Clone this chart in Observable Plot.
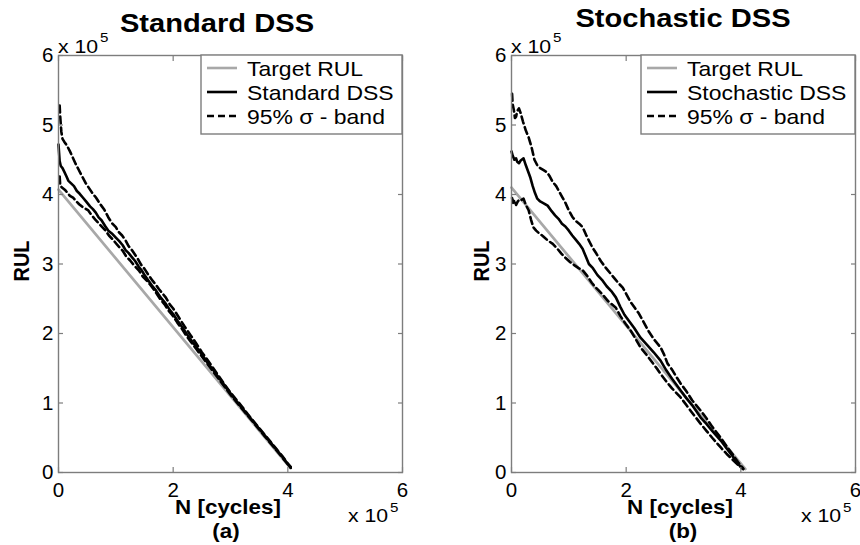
<!DOCTYPE html>
<html>
<head>
<meta charset="utf-8">
<script src="https://cdn.jsdelivr.net/npm/d3@7"></script>
<script src="https://cdn.jsdelivr.net/npm/@observablehq/plot@0.6"></script>
<style>
  body { margin: 0; background: #fff; }
  #wrap { position: relative; width: 860px; height: 545px; overflow: hidden; }
  #wrap svg { position: absolute; top: 0; }
</style>
</head>
<body>
<div id="wrap"></div>
<script>
// ---- data (N and RUL in units of 10^5 cycles) ----
const xTicks = [0, 2, 4, 6];
const yTicks = [0, 1, 2, 3, 4, 5, 6];
const titles = ["Standard DSS", "Stochastic DSS"];
const subLabels = ["(a)", "(b)"];
const legendA = ["Target RUL", "Standard DSS", "95% \u03c3 - band"];
const legendB = ["Target RUL", "Stochastic DSS", "95% \u03c3 - band"];

const stdTarget = [[0, 4.07], [4.05, 0.06]];
const stdMean = [[0.00,4.72],[0.01,4.60],[0.02,4.48],[0.04,4.41],[0.07,4.38],[0.10,4.33],[0.14,4.26],[0.17,4.20],[0.22,4.16],[0.27,4.12],[0.32,4.05],[0.37,4.01],[0.42,3.96],[0.48,3.90],[0.55,3.83],[0.60,3.79],[0.65,3.74],[0.70,3.67],[0.75,3.63],[0.81,3.55],[0.87,3.48],[0.93,3.44],[1.00,3.38],[1.06,3.33],[1.12,3.27],[1.17,3.20],[1.22,3.16],[1.28,3.10],[1.34,3.04],[1.40,2.96],[1.45,2.91],[1.51,2.83],[1.57,2.76],[1.63,2.69],[1.70,2.62],[1.78,2.52],[1.87,2.43],[1.94,2.34],[2.00,2.28],[2.08,2.18],[2.16,2.09],[2.23,2.00],[2.30,1.92],[2.40,1.81],[2.50,1.70],[2.60,1.58],[2.70,1.47],[2.80,1.36],[2.90,1.25],[3.00,1.14],[3.10,1.03],[3.20,0.93],[3.30,0.83],[3.40,0.73],[3.50,0.63],[3.60,0.53],[3.70,0.43],[3.80,0.33],[3.90,0.23],[4.00,0.12],[4.05,0.07]];
const stdUpper = [[0.02,5.28],[0.03,5.12],[0.05,4.90],[0.07,4.80],[0.10,4.76],[0.15,4.70],[0.20,4.62],[0.25,4.53],[0.30,4.44],[0.35,4.36],[0.40,4.28],[0.47,4.17],[0.55,4.07],[0.60,4.01],[0.65,3.96],[0.72,3.87],[0.80,3.78],[0.87,3.67],[0.94,3.58],[1.00,3.53],[1.05,3.46],[1.11,3.41],[1.17,3.34],[1.22,3.26],[1.28,3.20],[1.33,3.14],[1.38,3.08],[1.44,2.99],[1.50,2.93],[1.57,2.84],[1.64,2.76],[1.70,2.70],[1.75,2.64],[1.81,2.58],[1.87,2.52],[1.94,2.42],[2.00,2.36],[2.07,2.27],[2.13,2.19],[2.20,2.10],[2.30,1.98],[2.40,1.86],[2.50,1.73],[2.60,1.62],[2.70,1.50],[2.80,1.38],[2.90,1.26],[3.00,1.15],[3.10,1.05],[3.20,0.95],[3.30,0.84],[3.40,0.74],[3.50,0.64],[3.60,0.54],[3.70,0.44],[3.80,0.34],[3.90,0.24],[4.00,0.13],[4.05,0.08]];
const stdLower = [[0.02,4.26],[0.03,4.13],[0.06,4.10],[0.12,4.06],[0.20,3.98],[0.26,3.95],[0.30,3.91],[0.36,3.86],[0.42,3.82],[0.52,3.77],[0.58,3.70],[0.65,3.63],[0.73,3.56],[0.82,3.48],[0.88,3.41],[0.95,3.35],[1.03,3.27],[1.12,3.19],[1.18,3.11],[1.25,3.05],[1.33,2.97],[1.40,2.91],[1.47,2.82],[1.55,2.75],[1.62,2.68],[1.69,2.60],[1.77,2.50],[1.85,2.42],[1.92,2.33],[1.99,2.26],[2.07,2.16],[2.15,2.07],[2.22,1.98],[2.30,1.89],[2.40,1.78],[2.50,1.67],[2.60,1.56],[2.70,1.45],[2.80,1.34],[2.90,1.23],[3.00,1.12],[3.10,1.02],[3.20,0.92],[3.30,0.82],[3.40,0.72],[3.50,0.62],[3.60,0.52],[3.70,0.42],[3.80,0.32],[3.90,0.22],[4.00,0.12],[4.05,0.07]];

const stoTarget = [[0, 4.10], [4.08, 0.05]];
const stoMean = [[0.00,4.62],[0.02,4.56],[0.05,4.50],[0.08,4.52],[0.10,4.47],[0.13,4.45],[0.16,4.49],[0.21,4.52],[0.25,4.42],[0.29,4.33],[0.33,4.24],[0.37,4.12],[0.41,4.02],[0.45,3.94],[0.50,3.90],[0.57,3.87],[0.63,3.84],[0.70,3.76],[0.76,3.70],[0.82,3.65],[0.88,3.58],[0.94,3.54],[1.00,3.48],[1.06,3.41],[1.12,3.35],[1.18,3.29],[1.24,3.22],[1.30,3.10],[1.35,3.00],[1.42,2.94],[1.50,2.84],[1.59,2.76],[1.66,2.68],[1.74,2.61],[1.82,2.52],[1.90,2.38],[1.97,2.27],[2.04,2.19],[2.14,2.08],[2.25,1.94],[2.36,1.84],[2.48,1.73],[2.60,1.61],[2.70,1.47],[2.80,1.35],[2.95,1.18],[3.05,1.07],[3.15,0.97],[3.30,0.79],[3.40,0.70],[3.50,0.60],[3.65,0.46],[3.75,0.35],[3.85,0.24],[3.95,0.12],[4.04,0.05]];
const stoUpper = [[0.01,5.45],[0.02,5.30],[0.04,5.22],[0.06,5.10],[0.08,5.12],[0.10,5.20],[0.13,5.24],[0.16,5.17],[0.20,5.05],[0.25,4.92],[0.30,4.82],[0.35,4.68],[0.40,4.50],[0.45,4.42],[0.50,4.38],[0.56,4.35],[0.62,4.32],[0.66,4.27],[0.72,4.18],[0.78,4.12],[0.82,4.06],[0.88,3.97],[0.94,3.88],[1.00,3.77],[1.06,3.68],[1.12,3.62],[1.18,3.58],[1.24,3.53],[1.30,3.42],[1.36,3.32],[1.41,3.24],[1.48,3.15],[1.56,3.04],[1.64,2.95],[1.72,2.87],[1.80,2.79],[1.87,2.72],[1.94,2.66],[2.00,2.57],[2.08,2.45],[2.15,2.37],[2.22,2.29],[2.30,2.17],[2.40,2.02],[2.50,1.90],[2.60,1.80],[2.66,1.70],[2.72,1.57],[2.80,1.48],[2.88,1.37],[2.95,1.28],[3.05,1.17],[3.15,1.04],[3.30,0.89],[3.40,0.78],[3.50,0.66],[3.65,0.50],[3.75,0.38],[3.85,0.27],[3.95,0.15],[4.04,0.06]];
const stoLower = [[0.01,3.95],[0.03,3.88],[0.05,3.92],[0.08,3.85],[0.11,3.90],[0.14,3.93],[0.17,3.92],[0.21,3.94],[0.25,3.85],[0.30,3.77],[0.34,3.64],[0.38,3.53],[0.43,3.48],[0.47,3.45],[0.55,3.40],[0.63,3.34],[0.72,3.29],[0.80,3.22],[0.87,3.15],[0.94,3.09],[1.02,3.03],[1.10,2.98],[1.17,2.94],[1.24,2.91],[1.32,2.83],[1.40,2.73],[1.46,2.67],[1.52,2.62],[1.60,2.55],[1.68,2.47],[1.75,2.42],[1.82,2.37],[1.90,2.25],[1.99,2.14],[2.08,2.04],[2.16,1.93],[2.25,1.80],[2.35,1.70],[2.45,1.59],[2.55,1.48],[2.60,1.42],[2.70,1.31],[2.80,1.21],[2.95,1.08],[3.05,0.97],[3.15,0.86],[3.30,0.70],[3.40,0.60],[3.50,0.50],[3.65,0.36],[3.75,0.27],[3.85,0.19],[3.95,0.11],[4.04,0.05]];

// ---- drawing ----
const FONT = "'Liberation Sans', Arial, Helvetica, sans-serif";
const GRAY_TARGET = "#a8a8a8";
const FRAME = "#7d7d7d";
const SX = 1.12; // horizontal stretch of the reference text
const fmt = d3.format("d");

function txt(svg, str, x, y, size, {weight = "normal", anchor = "start", rotate = 0} = {}) {
  svg.append("text")
    .attr("transform", `translate(${x},${y}) scale(${SX},1) rotate(${rotate})`)
    .attr("text-anchor", anchor)
    .attr("font-family", FONT)
    .attr("font-size", size)
    .attr("font-weight", weight)
    .attr("fill", "#000")
    .text(str);
}

function panel(cfg) {
  const P = (d) => d[0], R = (d) => d[1];
  const plot = Plot.plot({
    width: 430, height: 545,
    marginLeft: cfg.mL, marginRight: cfg.mR, marginTop: 55, marginBottom: 73,
    style: {fontFamily: FONT, fontSize: "20.5px", background: "transparent", color: "#000", overflow: "visible"},
    x: {domain: [0, 6], ticks: xTicks, tickFormat: fmt},
    y: {domain: [0, 6], ticks: yTicks, tickFormat: fmt},
    marks: [
      Plot.line(cfg.target, {x: P, y: R, stroke: GRAY_TARGET, strokeWidth: 2.7}),
      Plot.line(cfg.lower, {x: P, y: R, stroke: "#000", strokeWidth: 2.6, strokeDasharray: "7,4"}),
      Plot.line(cfg.upper, {x: P, y: R, stroke: "#000", strokeWidth: 2.6, strokeDasharray: "7,4"}),
      Plot.line(cfg.mean, {x: P, y: R, stroke: "#000", strokeWidth: 2.6}),
      Plot.frame({stroke: FRAME, strokeWidth: 1.4}),
      Plot.axisY(yTicks, {anchor: "left", tickSize: 5, dx: 5, fill: "none", stroke: FRAME, strokeWidth: 1.2, label: null}),
      Plot.axisY(yTicks, {anchor: "right", tickSize: 5, dx: -5, fill: "none", stroke: FRAME, strokeWidth: 1.2, label: null}),
      Plot.axisX(xTicks, {anchor: "top", tickSize: 5, dy: 5, fill: "none", stroke: FRAME, strokeWidth: 1.2, label: null}),
      Plot.axisX(xTicks, {anchor: "bottom", tickSize: 5, dy: -5, fill: "none", stroke: FRAME, strokeWidth: 1.2, label: null}),
      Plot.axisY(yTicks, {anchor: "left", tickSize: 0, tickPadding: 5, tickFormat: fmt, label: null}),
      Plot.axisX(xTicks, {anchor: "bottom", tickSize: 0, tickPadding: 10, tickFormat: fmt, label: null})
    ]
  });
  plot.style.left = cfg.left + "px";
  const svg = d3.select(plot);
  const fl = cfg.mL, fr = 430 - cfg.mR;

  // titles and axis texts
  txt(svg, cfg.title, cfg.titleX, cfg.titleY, 26, {weight: "bold", anchor: "middle"});
  txt(svg, "x 10", fl, 53, 19);
  txt(svg, "5", fl + 42, 42, 13.5);
  txt(svg, "x 10", fr - 54, 522, 19);
  txt(svg, "5", fr - 12, 512, 13.5);
  txt(svg, "N [cycles]", cfg.nX, 514, 20, {weight: "bold", anchor: "middle"});
  txt(svg, cfg.sub, cfg.subX, 538, 20, {weight: "bold", anchor: "middle"});
  txt(svg, "RUL", cfg.rulX, 261, 20, {weight: "bold", anchor: "middle", rotate: -90});

  // legend
  const lx0 = cfg.legX0, ly0 = 55;
  svg.append("rect").attr("x", lx0).attr("y", ly0).attr("width", fr - lx0).attr("height", 79)
    .attr("fill", "#fff").attr("stroke", FRAME).attr("stroke-width", 1.4);
  const styles = [
    {stroke: GRAY_TARGET, dash: null},
    {stroke: "#000", dash: null},
    {stroke: "#000", dash: "7,4"}
  ];
  cfg.legend.forEach((name, i) => {
    const y = ly0 + 13 + 24 * i;
    svg.append("line").attr("x1", lx0 + 6).attr("x2", lx0 + 36).attr("y1", y).attr("y2", y)
      .attr("stroke", styles[i].stroke).attr("stroke-width", 2.6)
      .attr("stroke-dasharray", styles[i].dash);
    txt(svg, name, lx0 + 46, y + 8, 20.5);
  });
  document.getElementById("wrap").appendChild(plot);
}

panel({left: 0, mL: 58, mR: 28, target: stdTarget, mean: stdMean, upper: stdUpper, lower: stdLower,
  title: titles[0], titleX: 217, titleY: 32, nX: 228, sub: subLabels[0], subX: 226, rulX: 29,
  legX0: 201, legend: legendA});
panel({left: 430, mL: 81, mR: 5, target: stoTarget, mean: stoMean, upper: stoUpper, lower: stoLower,
  title: titles[1], titleX: 253, titleY: 27, nX: 250, sub: subLabels[1], subX: 253, rulX: 59,
  legX0: 211, legend: legendB});
</script>
</body>
</html>
